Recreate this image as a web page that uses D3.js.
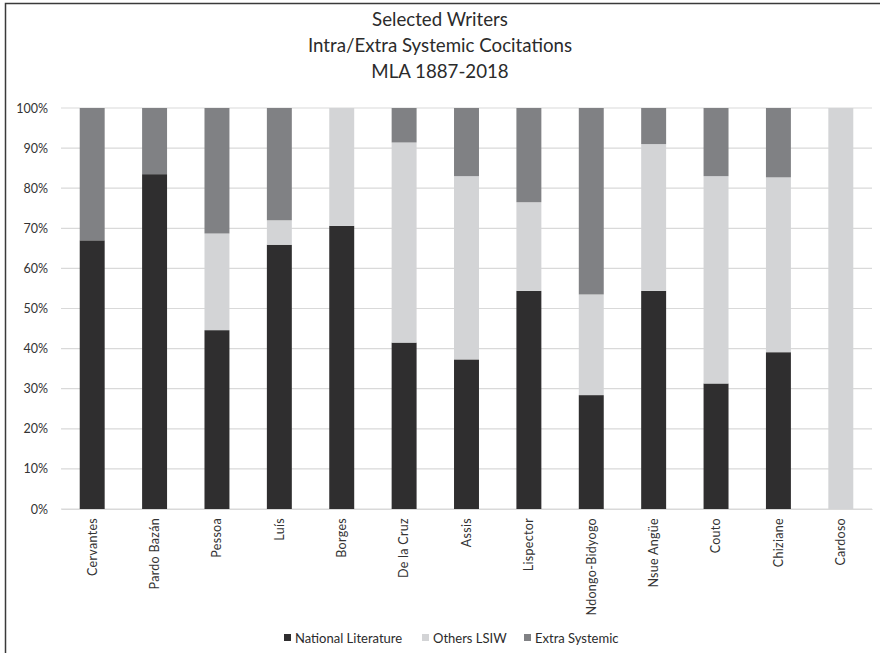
<!DOCTYPE html>
<html>
<head>
<meta charset="utf-8">
<script src="https://cdn.jsdelivr.net/npm/d3@7"></script>
<style>
  html, body { margin: 0; padding: 0; background: #fff; }
  svg { display: block; font-family: Lato, "Open Sans", sans-serif; }
</style>
</head>
<body>
<svg id="chart" width="880" height="653"></svg>
<script>
// Writers (categories along the x axis)
const writers = ["Cervantes", "Pardo Bazán", "Pessoa", "Luís", "Borges", "De la Cruz", "Assis",
  "Lispector", "Ndongo-Bidyogo", "Nsue Angüe", "Couto", "Chiziane", "Cardoso"];

// Share of cocitations per writer (percent), one array per series
const nationalLiterature = [67.0, 83.5, 44.6, 65.9, 70.6, 41.5, 37.3, 54.4, 28.4, 54.4, 31.3, 39.1, 0];
const othersLSIW         = [0,    0,    24.1, 6.1,  29.4, 49.9, 45.7, 22.1, 25.1, 36.6, 51.7, 43.6, 100];
const extraSystemic      = [33.0, 16.5, 31.3, 28.0, 0,    8.6,  17.0, 23.5, 46.5, 9.0,  17.0, 17.3, 0];

const seriesNames = ["National Literature", "Others LSIW", "Extra Systemic"];
const yTicks = [0, 10, 20, 30, 40, 50, 60, 70, 80, 90, 100];
const titleLines = ["Selected Writers", "Intra/Extra Systemic Cocitations", "MLA 1887-2018"];

const colors = { "National Literature": "#2f2e2f", "Others LSIW": "#d3d4d6", "Extra Systemic": "#808184" };

const svg = d3.select("#chart");
const W = 880, H = 653;
const margin = { top: 108, right: 8, bottom: 144, left: 61 };
const plotRight = 872;

// Frame line along the top and left edge
svg.append("path")
  .attr("d", `M5.5,${H} V3.5 H${W}`)
  .attr("fill", "none").attr("stroke", "#3a3a3a").attr("stroke-width", 1.5);

// Title
svg.append("g").selectAll("text").data(titleLines).join("text")
  .attr("x", 440).attr("y", (d, i) => 26 + i * 26)
  .attr("text-anchor", "middle")
  .attr("font-size", 18.7).attr("fill", "#2b2b2b")
  .text(d => d);

const x = d3.scaleBand().domain(writers).range([margin.left, plotRight]).paddingInner(0.6).paddingOuter(0.3);
const y = d3.scaleLinear().domain([0, 100]).range([509, 108]);

// Horizontal gridlines
svg.append("g").selectAll("line").data(yTicks).join("line")
  .attr("x1", margin.left).attr("x2", plotRight)
  .attr("y1", d => y(d)).attr("y2", d => y(d))
  .attr("stroke", "#d9d9d9").attr("stroke-width", 1.2);

// Y axis labels
const yAxis = d3.axisLeft(y).tickValues(yTicks).tickFormat(d => d + "%").tickSize(0).tickPadding(13);
const yg = svg.append("g").attr("transform", `translate(${margin.left},0)`).call(yAxis);
yg.select(".domain").remove();
yg.selectAll("text").attr("font-family", "Lato, sans-serif").attr("font-size", 12.5).attr("fill", "#333");

// Stacked bars
const table = writers.map((w, i) => ({
  writer: w,
  "National Literature": nationalLiterature[i],
  "Others LSIW": othersLSIW[i],
  "Extra Systemic": extraSystemic[i]
}));
const stacked = d3.stack().keys(seriesNames)(table);

svg.append("g").selectAll("g").data(stacked).join("g")
  .attr("fill", d => colors[d.key])
  .selectAll("rect").data(d => d).join("rect")
  .attr("x", d => x(d.data.writer))
  .attr("width", x.bandwidth())
  .attr("y", d => y(d[1]))
  .attr("height", d => y(d[0]) - y(d[1]));

// X axis labels (rotated)
const xAxis = d3.axisBottom(x).tickSize(0).tickPadding(0);
const xg = svg.append("g").attr("transform", `translate(0,509)`).call(xAxis);
xg.select(".domain").attr("stroke", "#d9d9d9").attr("stroke-width", 1.2);
xg.selectAll("text")
  .attr("font-family", "Lato, sans-serif").attr("font-size", 12.5).attr("fill", "#333")
  .attr("letter-spacing", 0.3)
  .attr("text-anchor", "end")
  .attr("transform", "rotate(-90)")
  .attr("x", -9).attr("y", 0).attr("dy", "0.35em");

// Legend
const legendItems = [
  { name: seriesNames[0], sx: 284 },
  { name: seriesNames[1], sx: 422 },
  { name: seriesNames[2], sx: 524 }
];
const lg = svg.append("g").selectAll("g").data(legendItems).join("g")
  .attr("transform", d => `translate(${d.sx},634)`);
lg.append("rect").attr("width", 7).attr("height", 7).attr("fill", d => colors[d.name]);
lg.append("text").attr("x", 11).attr("y", 4).attr("dy", "0.35em")
  .attr("font-size", 13).attr("fill", "#2b2b2b").text(d => d.name);
</script>
</body>
</html>
